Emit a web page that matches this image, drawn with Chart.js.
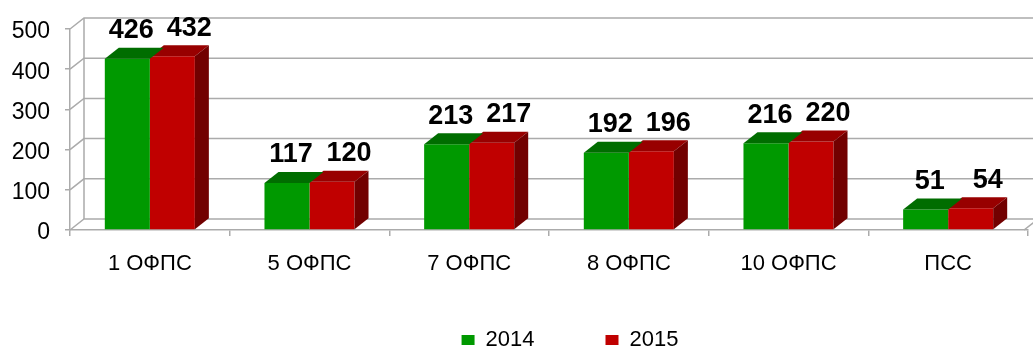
<!DOCTYPE html>
<html>
<head>
<meta charset="utf-8">
<script src="https://cdn.jsdelivr.net/npm/chart.js@4.4.1/dist/chart.umd.min.js"></script>
<style>
  html, body { margin:0; padding:0; background:#fff; }
</style>
</head>
<body>
<canvas id="my-bar" width="1033" height="349"></canvas>
<script>
const categories = ["1 ОФПС","5 ОФПС","7 ОФПС","8 ОФПС","10 ОФПС","ПСС"]
const values2014 = [426,117,213,192,216,51]
const values2015 = [432,120,217,196,220,54]
const yTicks = [0,100,200,300,400,500]

const FONT = "'Liberation Sans', Arial, sans-serif"
const DX = 14, DY = -11      // depth of walls and bars
const GRID = "#ababab"

// darker faces for the 3d look, per dataset
const faces = [
  {front:"#009900", top:"#006d00", side:"#005400", labelShift:4},
  {front:"#c00000", top:"#980000", side:"#720000", labelShift:17}
]

// ===========================back walls + floor===================
const walls = {
  id:"walls",
  afterLayout(chart){
    // legend sits a bit right of centre and near the bottom edge
    const lg = chart.legend
    lg.left = 112
    lg.top = 258
    lg.bottom = lg.top + lg.height
  },
  beforeDatasetsDraw(chart){
    const {ctx, chartArea:a, scales:{y}} = chart
    ctx.save()
    ctx.strokeStyle = GRID
    ctx.lineWidth = 1.5
    yTicks.forEach(v => {
      const py = y.getPixelForValue(v)
      ctx.beginPath()
      ctx.moveTo(a.left, py)
      ctx.lineTo(a.left + DX, py + DY)
      ctx.lineTo(chart.width, py + DY)
      ctx.stroke()
    })
    ctx.beginPath()
    ctx.moveTo(a.left + DX, a.bottom + DY)
    ctx.lineTo(a.left + DX, a.top + DY)
    ctx.moveTo(a.right - 4, a.bottom)
    ctx.lineTo(a.right - 4 + DX, a.bottom + DY)
    ctx.stroke()
    ctx.restore()
  },
  afterDatasetDraw(chart, args){
    const {ctx} = chart
    const f = faces[args.index]
    ctx.save()
    args.meta.data.forEach(bar => {
      const x0 = bar.x - bar.width / 2, x1 = bar.x + bar.width / 2
      ctx.fillStyle = f.top
      ctx.beginPath()
      ctx.moveTo(x0, bar.y)
      ctx.lineTo(x0 + DX, bar.y + DY)
      ctx.lineTo(x1 + DX, bar.y + DY)
      ctx.lineTo(x1, bar.y)
      ctx.closePath()
      ctx.fill()
      // only the front-most series shows its right side
      if (args.index === 1) {
        ctx.fillStyle = f.side
        ctx.beginPath()
        ctx.moveTo(x1, bar.y)
        ctx.lineTo(x1 + DX, bar.y + DY)
        ctx.lineTo(x1 + DX, bar.base + DY)
        ctx.lineTo(x1, bar.base)
        ctx.closePath()
        ctx.fill()
      }
    })
    ctx.restore()
  },
  afterDatasetsDraw(chart){
    const {ctx} = chart
    ctx.save()
    ctx.font = "bold 27px " + FONT
    ctx.fillStyle = "#000"
    ctx.textAlign = "center"
    ctx.textBaseline = "middle"
    chart.data.datasets.forEach((ds, i) => {
      chart.getDatasetMeta(i).data.forEach((bar, j) => {
        ctx.fillText(ds.data[j], bar.x + faces[i].labelShift, bar.y - 28)
      })
    })
    ctx.restore()
  }
}

const myBar = document.getElementById("my-bar")
let barChart = new Chart(myBar, {
  type:"bar",
  data:{
    labels:categories,
    datasets:[{
      label:"2014",
      data:values2014,
      backgroundColor:faces[0].front,
      borderWidth:0,
      categoryPercentage:0.564,
      barPercentage:1
    },{
      label:"2015",
      data:values2015,
      backgroundColor:faces[1].front,
      borderWidth:0,
      categoryPercentage:0.564,
      barPercentage:1
    }]
  },
  options:{
    responsive:false,
    animation:false,
    devicePixelRatio:1,
    layout:{ padding:{left:0, right:5, top:29, bottom:-44} },
    scales:{
      x:{
        grid:{ drawOnChartArea:false, drawTicks:true, tickLength:6, color:GRID, lineWidth:1.5 },
        border:{ display:true, color:GRID, width:1.5 },
        ticks:{ color:"#000", font:{family:FONT, size:22}, padding:15 },
        afterFit(s){ s.height = 60 }
      },
      y:{
        min:0, max:500,
        ticks:{ stepSize:100, color:"#000", font:{family:FONT, size:23}, padding:15, labelOffset:3 },
        grid:{ drawOnChartArea:false, drawTicks:true, tickLength:5, color:GRID, lineWidth:1.5 },
        border:{ display:true, color:GRID, width:1.5 },
        afterFit(s){ s.width = 70 }
      }
    },
    plugins:{
      tooltip:{ enabled:false },
      legend:{
        position:"bottom",
        labels:{ color:"#000", font:{family:FONT, size:22}, boxWidth:13, boxHeight:10, padding:71 }
      }
    }
  },
  plugins:[walls]
})
</script>
</body>
</html>
